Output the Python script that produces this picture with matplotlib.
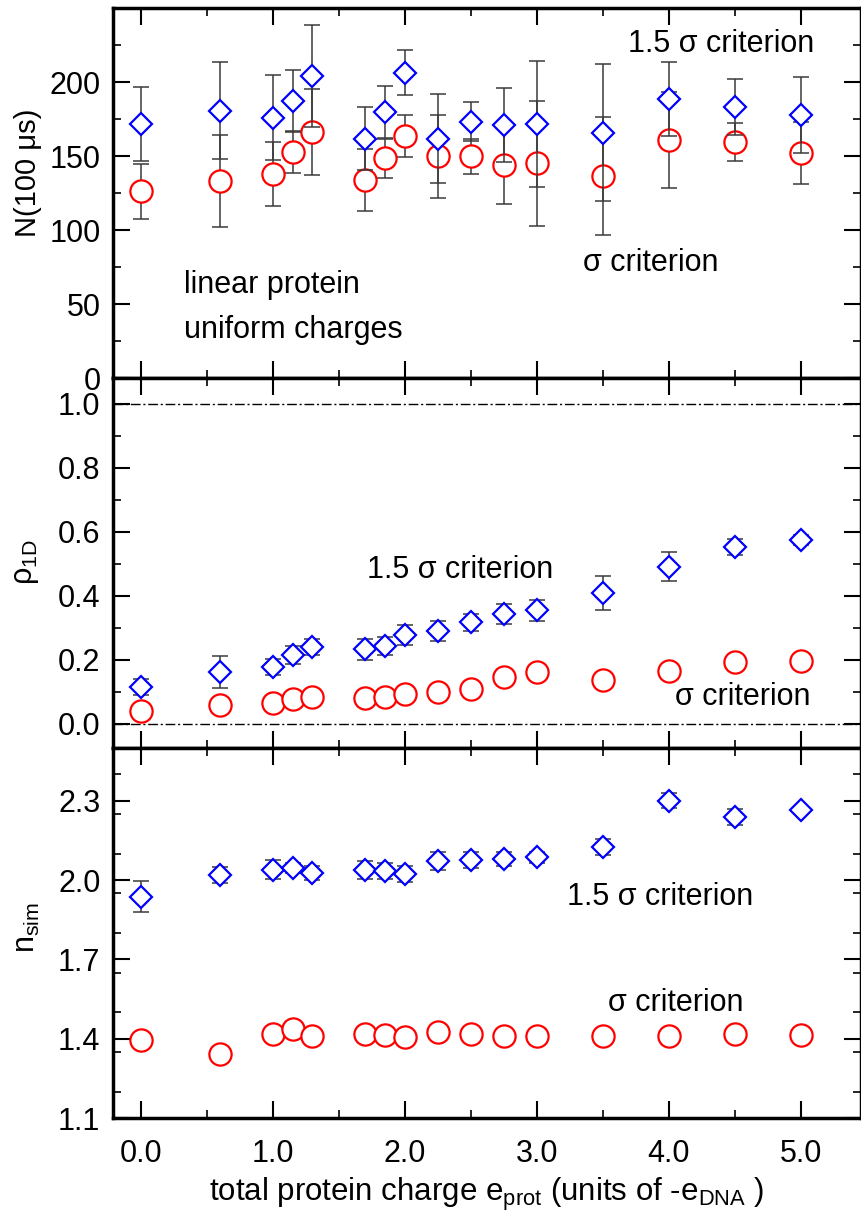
import numpy as np
import matplotlib
matplotlib.use('Agg')
import matplotlib.pyplot as plt
from matplotlib.ticker import MultipleLocator, FormatStrFormatter

plt.rcParams['font.family'] = ['Liberation Sans', 'DejaVu Sans']
plt.rcParams['mathtext.fontset'] = 'custom'
plt.rcParams['mathtext.rm'] = 'Liberation Sans'
plt.rcParams['mathtext.it'] = 'Liberation Sans:italic'
plt.rcParams['mathtext.default'] = 'regular'

# total protein charge (x)
charge = [0.0, 0.6, 1.0, 1.15, 1.3, 1.7, 1.85, 2.0, 2.25, 2.5, 2.75, 3.0, 3.5, 4.0, 4.5, 5.0]

# N(100 us)
n_15 = [171.6, 180.5, 175.9, 187.3, 204.0, 161.8, 179.6, 206.3, 161.6, 173.2, 170.7, 171.9, 165.8, 188.5, 183.3, 177.7]
n_15_err = [25, 32.7, 28.6, 21, 34.5, 21, 17.4, 15, 30, 13, 25, 42.6, 46.5, 25, 19, 25.5]
n_1 = [126.1, 133.0, 137.8, 152.6, 166.1, 133.8, 148.5, 163.7, 149.8, 149.8, 143.9, 145.2, 136.6, 160.8, 159.4, 152.3]
n_1_err = [18.5, 31, 21.5, 14, 29, 21, 13.3, 14.2, 28, 12, 26.3, 42.3, 40, 32.6, 12.7, 21]

# rho_1D
rho_15 = [0.117, 0.164, 0.179, 0.216, 0.242, 0.234, 0.245, 0.278, 0.291, 0.318, 0.343, 0.355, 0.408, 0.492, 0.552, 0.575]
rho_15_err = [0.025, 0.05, 0.025, 0.029, 0.025, 0.033, 0.028, 0.032, 0.032, 0.027, 0.032, 0.032, 0.053, 0.046, 0.025, 0.017]
rho_1 = [0.041, 0.059, 0.067, 0.078, 0.083, 0.082, 0.083, 0.094, 0.099, 0.109, 0.148, 0.164, 0.1375, 0.167, 0.193, 0.197]
rho_1_err = [0.005, 0.006, 0.005, 0.005, 0.005, 0.005, 0.005, 0.006, 0.006, 0.006, 0.008, 0.008, 0.008, 0.008, 0.008, 0.008]

# n_sim
ns_15 = [1.938, 2.018, 2.039, 2.046, 2.027, 2.039, 2.033, 2.024, 2.073, 2.077, 2.080, 2.086, 2.127, 2.300, 2.238, 2.266]
ns_15_err = [0.06, 0.03, 0.036, 0.02, 0.028, 0.033, 0.03, 0.031, 0.035, 0.03, 0.025, 0.02, 0.03, 0.028, 0.03, 0.01]
ns_1 = [1.394, 1.343, 1.419, 1.437, 1.409, 1.419, 1.415, 1.407, 1.424, 1.418, 1.412, 1.409, 1.409, 1.412, 1.419, 1.415]
ns_1_err = [0.01] * 16

fig = plt.figure(figsize=(8.62, 12.24), dpi=100)
left, width, h = 113/862, 748/862, 370/1224
ax1 = fig.add_axes([left, 1 - 378/1224, width, h])
ax2 = fig.add_axes([left, 1 - 748/1224, width, h], sharex=ax1)
ax3 = fig.add_axes([left, 1 - 1118/1224, width, h], sharex=ax1)

ecol = '#3a3a3a'


def panel(ax, y1, e1, y15, e15):
    ax.errorbar(charge, y1, yerr=e1, fmt='none', ecolor=ecol, elinewidth=1.1,
                capsize=5.5, capthick=1.1, zorder=2)
    ax.plot(charge, y1, 'o', ms=16, mfc='white', mec='red', mew=1.6, ls='none', zorder=3)
    ax.errorbar(charge, y15, yerr=e15, fmt='none', ecolor=ecol, elinewidth=1.1,
                capsize=5.5, capthick=1.1, zorder=4)
    ax.plot(charge, y15, 'D', ms=11, mfc='white', mec='blue', mew=1.6, ls='none', zorder=5)
    for s in ax.spines.values():
        s.set_linewidth(2.5)
    ax.tick_params(which='both', direction='in', top=True, right=True, labelsize=22)
    ax.tick_params(which='major', length=12, width=1.5, pad=9)
    ax.tick_params(which='minor', length=6, width=1.2)
    ax.tick_params(axis='x', which='major', pad=15)


panel(ax1, n_1, n_1_err, n_15, n_15_err)
panel(ax2, rho_1, rho_1_err, rho_15, rho_15_err)
panel(ax3, ns_1, ns_1_err, ns_15, ns_15_err)

ax1.set_xlim(-0.21, 5.455)
ax1.xaxis.set_major_locator(MultipleLocator(1.0))
ax1.xaxis.set_minor_locator(MultipleLocator(0.5))
ax3.xaxis.set_major_formatter(FormatStrFormatter('%.1f'))
ax1.tick_params(labelbottom=False)
ax2.tick_params(labelbottom=False)

ax1.set_ylim(0, 250)
ax1.yaxis.set_minor_locator(MultipleLocator(25))
ax1.set_yticks([0, 50, 100, 150, 200])

ax2.set_ylim(-0.075, 1.081)
ax2.set_yticks([0.0, 0.2, 0.4, 0.6, 0.8, 1.0])
ax2.yaxis.set_minor_locator(MultipleLocator(0.1))
ax2.yaxis.set_major_formatter(FormatStrFormatter('%.1f'))
for yv in [0.0, 1.0]:
    ax2.axhline(yv, color='black', lw=1.0, dashes=(7, 2, 1.5, 2), zorder=1)

ax3.set_ylim(1.1, 2.5)
ax3.set_yticks([1.1, 1.4, 1.7, 2.0, 2.3])
ax3.yaxis.set_minor_locator(MultipleLocator(0.15))
ax3.yaxis.set_major_formatter(FormatStrFormatter('%.1f'))

# annotations
tkw = dict(fontsize=22, ha='left', va='center')
ax1.text(3.69, 226, '1.5 σ criterion', **tkw)
ax1.text(3.35, 77.7, 'σ criterion', **tkw)
ax1.text(0.33, 62.8, 'linear protein', **tkw)
ax1.text(0.33, 32.4, 'uniform charges', **tkw)
ax2.text(1.715, 0.481, '1.5 σ criterion', **tkw)
ax2.text(4.05, 0.084, 'σ criterion', **tkw)
ax3.text(3.23, 1.937, '1.5 σ criterion', **tkw)
ax3.text(3.54, 1.536, 'σ criterion', **tkw)

# axis labels
fig.text(28/862, 1 - 173/1224, 'N(100 μs)', rotation=90, fontsize=21, ha='center', va='center')
fig.text(26/862, 1 - 562/1224, 'ρ$_{1D}$', rotation=90, fontsize=22, ha='center', va='center')
fig.text(27/862, 1 - 927/1224, 'n$_{sim}$', rotation=90, fontsize=22, ha='center', va='center')
ax3.set_xlabel('total protein charge e$_{prot}$ (units of -e$_{DNA}$ )', fontsize=22.5, labelpad=5)

fig.savefig('out.png', dpi=100)
